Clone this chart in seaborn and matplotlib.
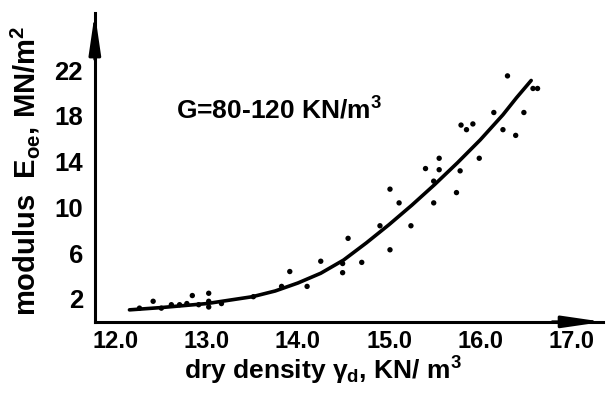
import numpy as np
import pandas as pd
import matplotlib
matplotlib.use('Agg')
import matplotlib.pyplot as plt
import seaborn as sns

# measured points, dry density (KN/m3) vs modulus Eoe (MN/m2)
dens = [12.26, 12.41, 12.50, 12.61, 12.70, 12.78, 12.84, 12.91, 13.02, 13.02,
        13.02, 13.16, 13.51, 13.82, 13.91, 14.10, 14.25, 14.49, 14.49, 14.55,
        14.70, 14.90, 15.01, 15.01, 15.11, 15.24, 15.40, 15.49, 15.49, 15.55,
        15.55, 15.74, 15.78, 15.79, 15.85, 15.92, 15.99, 16.15, 16.25, 16.30,
        16.39, 16.48, 16.58, 16.63]
modul = [1.2, 1.8, 1.2, 1.5, 1.5, 1.6, 2.3, 1.5, 2.5, 1.8,
         1.3, 1.6, 2.2, 3.1, 4.4, 3.1, 5.3, 5.1, 4.3, 7.3,
         5.2, 8.4, 6.3, 11.6, 10.4, 8.4, 13.4, 10.4, 12.3, 14.3,
         13.3, 11.3, 13.2, 17.2, 16.8, 17.3, 14.3, 18.3, 16.8, 21.5,
         16.3, 18.3, 20.4, 20.4]

# trend curve
curve_x = [12.15, 12.5, 13.0, 13.5, 13.75, 14.0, 14.25, 14.5, 14.75, 15.0,
           15.25, 15.5, 15.75, 16.0, 16.25, 16.4, 16.56]
curve_y = [1.05, 1.25, 1.6, 2.2, 2.7, 3.4, 4.25, 5.4, 6.9, 8.5,
           10.2, 12.0, 13.9, 15.9, 18.1, 19.6, 21.1]

xticks = [12.0, 12.5, 13.0, 13.5, 14.0, 14.5, 15.0, 15.5, 16.0, 16.5, 17.0]
xlabels = ['12.0', '', '13.0', '', '14.0', '', '15.0', '', '16.0', '', '17.0']
yticks = [2, 4, 6, 8, 10, 12, 14, 16, 18, 20, 22]
ylabels = ['2', '', '6', '', '10', '', '14', '', '18', '', '22']

sns.set_style('white')
plt.rcParams['font.family'] = ['Liberation Sans', 'DejaVu Sans']
plt.rcParams['font.weight'] = 'bold'
plt.rcParams['axes.labelweight'] = 'bold'
plt.rcParams['text.color'] = 'black'
plt.rcParams['axes.labelcolor'] = 'black'
plt.rcParams['mathtext.fontset'] = 'custom'
plt.rcParams['mathtext.rm'] = 'Liberation Sans:bold'
plt.rcParams['mathtext.it'] = 'Liberation Sans:bold'
plt.rcParams['mathtext.bf'] = 'Liberation Sans:bold'

pts = pd.DataFrame({'dens': dens, 'modul': modul})
trend = pd.DataFrame({'x': curve_x, 'y': curve_y})

fig = plt.figure(figsize=(6.08, 3.93), dpi=100)
ax = fig.add_axes([0.156, 0.181, 0.836, 0.786])

sns.scatterplot(data=pts, x='dens', y='modul', ax=ax, color='black', s=15,
                edgecolor='none', zorder=3)
sns.lineplot(data=trend, x='x', y='y', ax=ax, color='black', lw=2.6,
             sort=True, zorder=4)

ax.set_xlim(11.77, 17.35)
ax.set_ylim(0, 27)
ax.set_xticks(xticks, xlabels)
ax.set_yticks(yticks, ylabels)
ax.tick_params(direction='inout', length=7, width=1.6, labelsize=17, pad=2,
               color='black', labelcolor='black')
ax.tick_params(axis='y', pad=5, labelsize=18.5)

for s in ['top', 'right']:
    ax.spines[s].set_visible(False)
for s in ['left', 'bottom']:
    ax.spines[s].set_linewidth(2.2)
    ax.spines[s].set_color('black')

# arrow heads at the axis ends
ax.annotate('', xy=(1.0, 0), xytext=(0.9, 0), xycoords='axes fraction',
            arrowprops=dict(arrowstyle='-|>,head_length=2.4,head_width=0.35',
                            color='black', lw=2.2, mutation_scale=10,
                            shrinkA=0, shrinkB=0), annotation_clip=False)
ax.annotate('', xy=(0, 1.0), xytext=(0, 0.85), xycoords='axes fraction',
            arrowprops=dict(arrowstyle='-|>,head_length=2.4,head_width=0.35',
                            color='black', lw=2.2, mutation_scale=10,
                            shrinkA=0, shrinkB=0), annotation_clip=False)

ax.set_xlabel(r'dry density γ$_{d}$, KN/ m$^{3}$', fontsize=19)
ax.xaxis.set_label_coords(0.448, -0.105)
ax.set_ylabel(r'modulus  E$_{oe}$, MN/m$^{2}$', fontsize=21)
ax.yaxis.set_label_coords(-0.104, 0.49)

ax.text(12.66, 17.7, r'G=80-120 KN/m$^{3}$', fontsize=19, ha='left',
        va='baseline', fontweight='bold')

plt.savefig('out.png', dpi=100)
